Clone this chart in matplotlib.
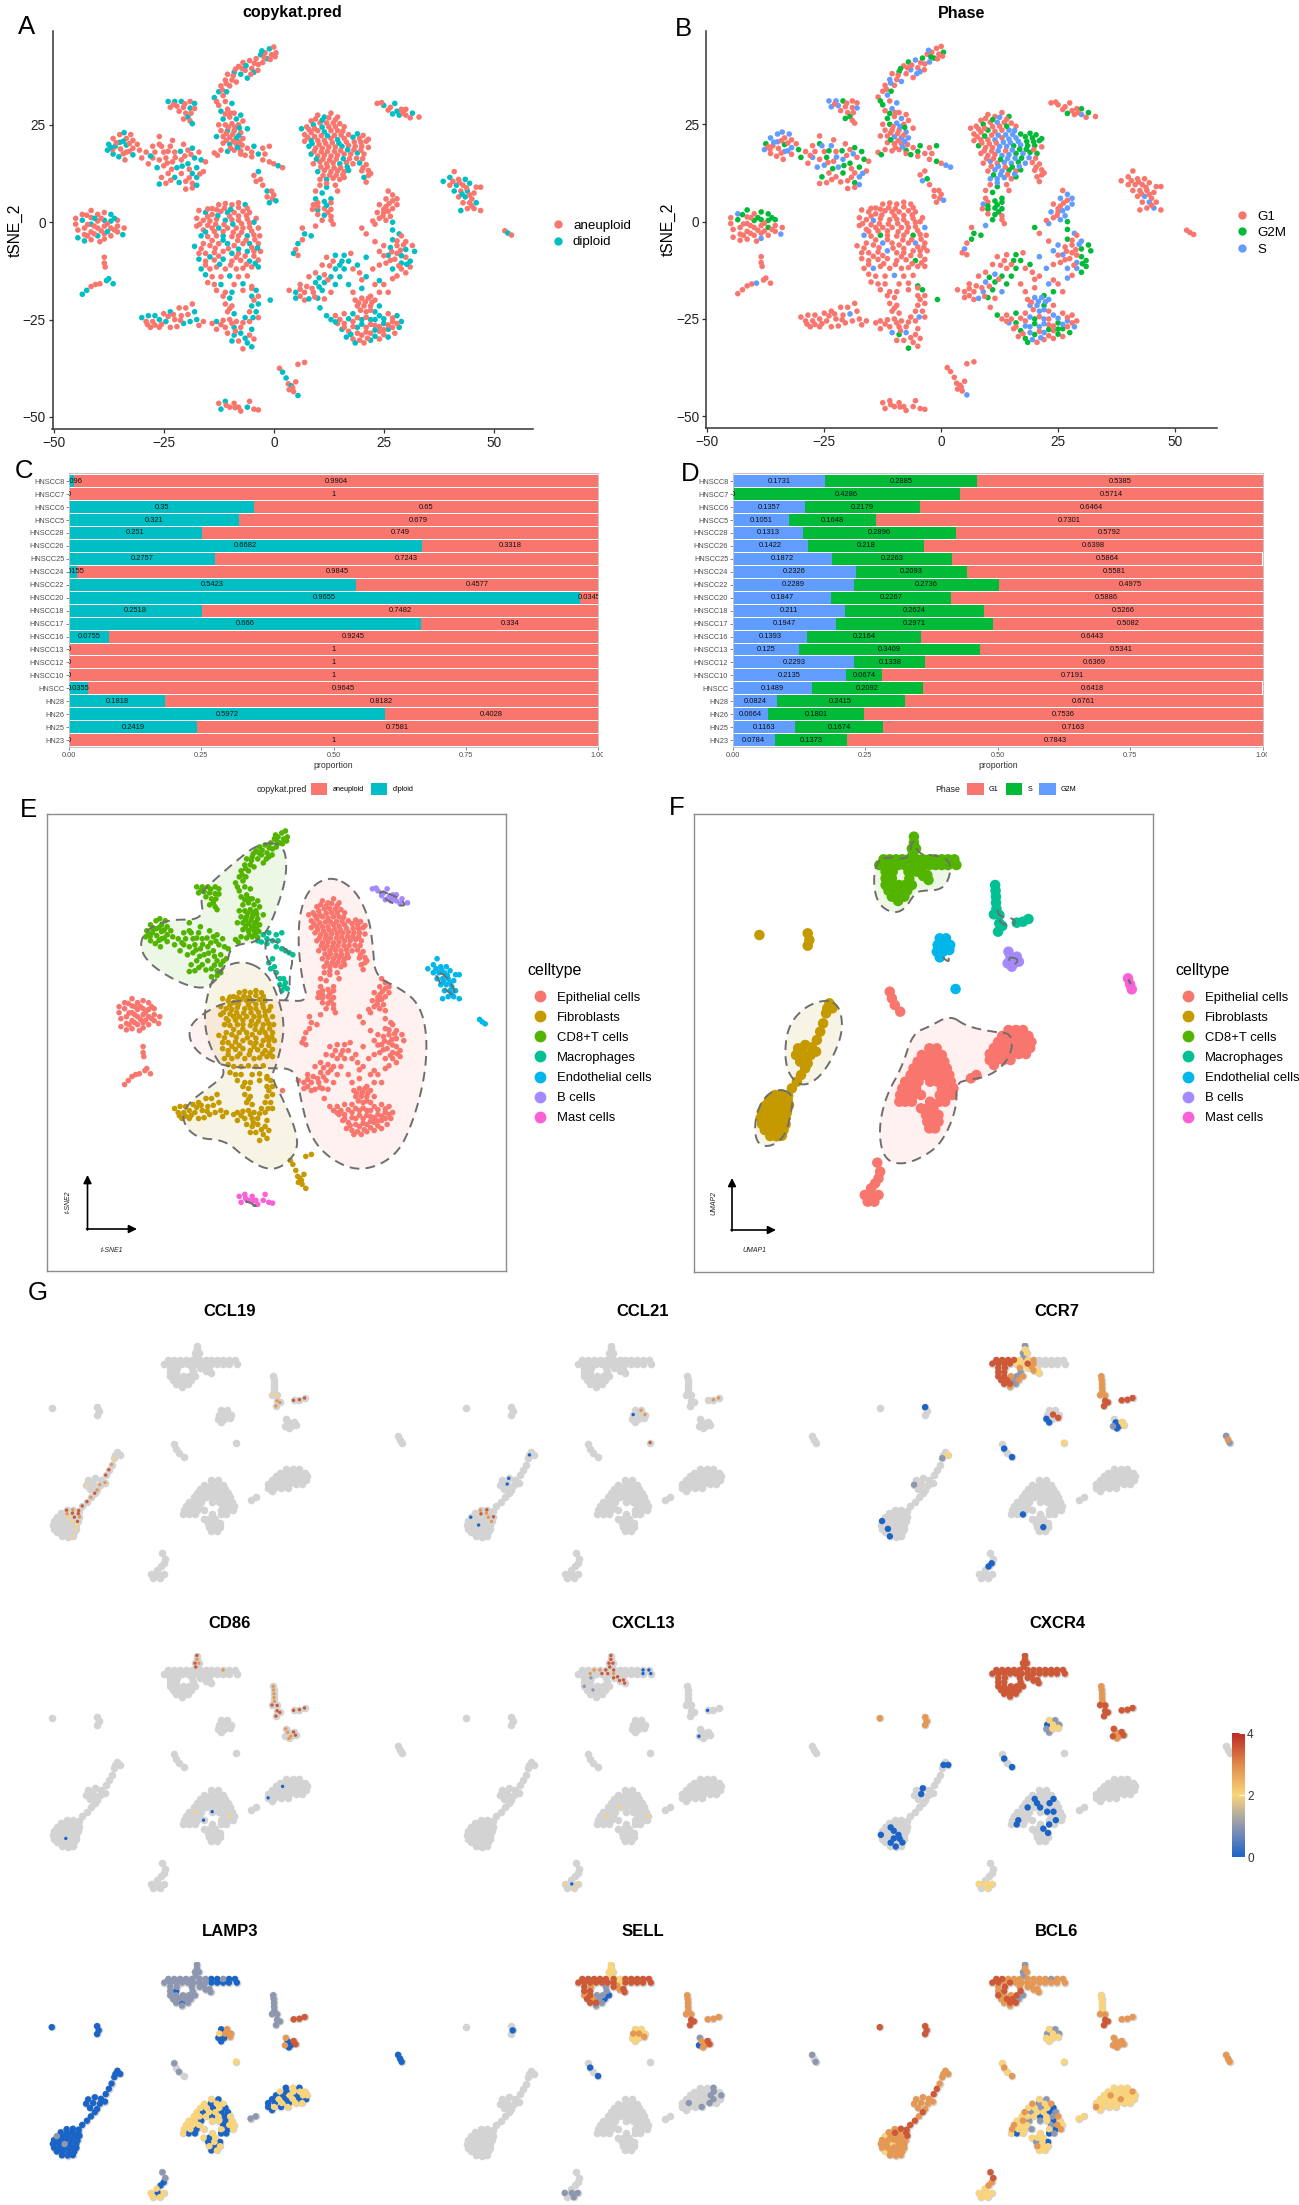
import numpy as np
import matplotlib
matplotlib.use('Agg')
import matplotlib.pyplot as plt
from matplotlib.lines import Line2D
from matplotlib.patches import Patch, Polygon
from matplotlib.colors import LinearSegmentedColormap, Normalize
from matplotlib.cm import ScalarMappable
from matplotlib.transforms import Bbox

plt.rcParams['font.family'] = ['Liberation Sans', 'DejaVu Sans']
W, H = 1299, 2205

# ---------- bar data ----------
SAMPLES = ['HNSCC8','HNSCC7','HNSCC6','HNSCC5','HNSCC28','HNSCC26','HNSCC25','HNSCC24','HNSCC22','HNSCC20','HNSCC18',
           'HNSCC17','HNSCC16','HNSCC13','HNSCC12','HNSCC10','HNSCC','HN28','HN26','HN25','HN23']
DIPLOID = [0.0096,0,0.35,0.321,0.251,0.6682,0.2757,0.0155,0.5423,0.9655,0.2518,0.666,0.0755,0,0,0,0.0355,0.1818,0.5972,0.2419,0]
ANEUPLOID = [0.9904,1,0.65,0.679,0.749,0.3318,0.7243,0.9845,0.4577,0.0345,0.7482,0.334,0.9245,1,1,1,0.9645,0.8182,0.4028,0.7581,1]
PH_G2M = [0.1731,0,0.1357,0.1051,0.1313,0.1422,0.1872,0.2326,0.2289,0.1847,0.211,0.1947,0.1393,0.125,0.2293,0.2135,0.1489,0.0824,0.0664,0.1163,0.0784]
PH_S = [0.2885,0.4286,0.2179,0.1648,0.2896,0.218,0.2263,0.2093,0.2736,0.2267,0.2624,0.2971,0.2164,0.3409,0.1338,0.0674,0.2092,0.2415,0.1801,0.1674,0.1373]
PH_G1 = [0.5385,0.5714,0.6464,0.7301,0.5792,0.6398,0.5864,0.5581,0.4975,0.5886,0.5266,0.5082,0.6443,0.5341,0.6369,0.7191,0.6418,0.6761,0.7536,0.7163,0.7843]

# ---------- tSNE embedding, (x, y, copykat+phase) ----------
T_STRAND = [(-13.5,32,'dg'),(-12.5,33.5,'dg'),(-13,31,'am'),(-11.5,32.5,'as'),(-12,35,'ag'),(-11,36.5,'as'),(-10,35,'ag'),(-10.5,38,'ag'),(-9,38.5,'dm'),(-9.5,36.5,'ag'),(-8.5,36,'as'),(-8,40,'ag'),(-7.5,38,'dg'),(-7,41,'am'),(-6.5,39,'as'),(-6,37,'dg'),(-5.5,41.5,'as'),(-5,39.5,'ag'),(-4.5,38.5,'ds'),(-4,42,'am'),(-3.5,40.5,'ag'),(-3,43,'dg'),(-2.5,41,'as'),(-2,43.5,'ag'),(-1.5,42,'dm'),(-1,44.5,'dg'),(-0.5,43,'ag'),(0,45,'ag'),(0.5,43.5,'am'),(0.3,42.5,'ag'),(-2.7,44,'ds'),
(-11.7,34,'ag'),(-10.7,33.5,'dm'),(-10.8,35.6,'as'),(-9.2,37.6,'ag'),(-8.7,39.3,'am'),(-7.2,39.5,'ag'),(-6.3,40.2,'dg'),(-5.2,38,'as'),(-4.4,40.8,'ag'),(-3.6,39,'ag'),(-2.2,42.3,'am'),(-0.8,41.8,'ag')]
T_COLUMN = [(-12.5,30,'am'),(-11,31,'ag'),(-9.5,30.5,'ds'),(-12,28.5,'dg'),(-10.5,29,'as'),(-9,28,'ag'),(-11.5,26.5,'dm'),(-10,27,'ag'),(-8.5,26.5,'ds'),(-7.5,27.5,'dg'),(-12.5,25,'ag'),(-11,25,'am'),(-9.5,25.3,'as'),(-8,25,'ag'),(-7,26,'ag'),(-12,23.5,'ag'),(-10.5,23.5,'dg'),(-9,23.5,'ag'),(-7.5,23,'as'),(-6,24,'dg'),(-13,22,'dg'),(-11.5,22,'ag'),(-10,21.8,'as'),(-8.5,21.5,'ds'),(-7,21.5,'as'),(-11.5,20.3,'ag'),(-10,20,'dg'),(-8.5,20,'ag'),(-7.2,19.8,'ag'),(-12,18.5,'ag'),(-10.5,18.2,'dg'),(-9,18.5,'ag'),(-7.5,18.3,'am'),(-13.5,17.8,'ag'),(-12.8,17.2,'am'),
(-10.3,24.4,'ag'),(-8.8,24.4,'as'),(-7.8,24.2,'dm'),(-10.8,22.8,'ag'),(-9.3,22.6,'ag'),(-8,22.2,'dg'),(-10.8,21,'am'),(-9.2,20.8,'ag'),(-7.8,20.6,'as'),(-9.8,19,'ag'),(-8.2,19.2,'ds'),(-9.8,28,'ag'),(-11,27.8,'am')]
T_SMALL = [(-24,31,'ds'),(-22.5,31,'ds'),(-21,31,'dm'),(-19,31,'ag'),(-18,30.5,'dg'),(-23.5,29.5,'as'),(-22,29.8,'as'),(-20.5,29.5,'ag'),(-19,29.3,'dg'),(-18,29.2,'as'),(-21.5,28.5,'ag'),(-20,28,'ag'),(-19.5,27,'dm'),(-19,26,'ag'),(-20.5,26.5,'am'),(-18.5,25.3,'dg'),(-22.8,30.2,'ag'),(-20.2,30.4,'ag'),(-18.8,28,'ag')]
T_LEFT = [(-37.5,20,'dm'),(-37.8,18.5,'ds'),(-36.5,21.5,'as'),(-36,19.5,'dg'),(-36.5,17.5,'dg'),(-35,22.5,'as'),(-35,20.5,'ds'),(-34.8,18.8,'ag'),(-35.2,16.8,'dg'),(-33.5,21.5,'ag'),(-33.5,19.8,'dm'),(-33.5,18,'as'),(-33.8,16,'ag'),(-32,21,'ag'),(-32,19,'as'),(-32,17.3,'dg'),(-31,20,'ag'),(-30.5,18.5,'am'),(-34,23,'ds'),(-32.5,22.5,'as'),(-36.6,18.6,'ag'),(-35.8,20.4,'as'),(-34.2,20.8,'dg'),(-34.2,17.6,'ag'),(-32.8,20.2,'ag'),(-32.8,18.2,'as'),(-37,19.2,'dg')]
T_MID = [(-30,16.5,'am'),(-29,18,'ag'),(-27.5,19.5,'ag'),(-26,22,'ag'),(-26,20,'am'),(-25,18,'ag'),(-27.5,16.5,'as'),(-28.5,15,'ag'),(-26,16,'ag'),(-24.5,16.5,'am'),(-26.5,14,'ds'),(-25,14.5,'as'),(-23.5,19.5,'as'),(-22.5,18,'ag'),(-23,15.5,'ag'),(-22,14,'ds'),(-24,12.5,'ag'),(-25.5,11.5,'am'),(-24.5,10,'ag'),(-26,9.8,'dg'),(-22.5,11.5,'dg'),(-21,12.5,'am'),(-21,16,'as'),(-20.5,20,'ag'),(-19.5,18.5,'ag'),(-19.5,15,'dm'),(-20,10.5,'ag'),(-18.5,12.5,'dg'),(-18.5,10,'am'),(-18,16.5,'dg'),(-17.5,14,'dm'),(-17.5,11.5,'ds'),(-18.5,8.8,'ag'),(-20,8.5,'ag'),(-16.5,16,'dm'),(-15.5,15.5,'ag'),(-17,18,'am'),(-16,13,'ag'),(-17.5,9.5,'ds'),(-23,21,'ag'),(-18.5,19,'dm'),
(-27,18,'ag'),(-25.5,19.5,'as'),(-28,17,'dg'),(-24.2,15.2,'ag'),(-24,18.2,'am'),(-22.4,16.6,'as'),(-21.2,18.2,'dm'),(-20.2,17,'ag'),(-23.2,13.6,'am'),(-20.8,14.4,'dm'),(-19.2,13.6,'ag'),(-19.2,11.4,'ag'),(-23.4,10.8,'ag'),(-21.5,10.2,'dg'),(-16.8,12.4,'as'),(-18.8,17.4,'as')]
T_MACRO = [(-6,19,'ag'),(-5,18,'am'),(-4.5,19.5,'dm'),(-3.5,17.5,'dg'),(-2.5,19,'ag'),(-2,17.5,'ag'),(-1,19.5,'am'),(-7.5,17.5,'ag'),(-6.5,17.2,'am'),(-5,16.8,'ag'),(-2.5,16,'ag'),(-1,15.5,'am'),(0,15,'ag'),(1,14.5,'ds'),(2,14,'as'),(-4.5,12,'ag'),(-3.5,13,'dg'),(-3,11,'am'),(-4,10.5,'as'),(-2.5,9.5,'ag'),(-1.5,8,'dg'),(-0.5,8,'ag'),(-1.5,6.5,'ag'),(-0.3,6,'ag'),(0.5,5.5,'ds'),(-1,5,'dg'),(0,7,'ag')]
T_UPPER = [(8.5,26,'ag'),(10,27.5,'ag'),(11.5,27,'dg'),(13,28,'ag'),(14.5,27,'am'),(7.5,24.5,'ag'),(9,25,'dm'),(10.5,25.5,'ag'),(12,25.5,'as'),(13.5,25.5,'ag'),(15,25.3,'ag'),(16,24.5,'ag'),(6.3,24,'dg'),(7,22.5,'ag'),(8.5,23,'ag'),(10,23.5,'am'),(11.5,23.2,'dg'),(13,23.5,'ag'),(14.5,23.5,'as'),
(7,20.8,'ag'),(8.5,21,'dg'),(10,21,'ag'),(11.5,21,'as'),(13,21.5,'ag'),(14.5,21.2,'ds'),(16,21.5,'as'),(18,21.8,'dm'),(19.5,21.5,'am'),(21,20.8,'am'),(8,19.5,'dm'),(9.5,19,'ag'),(11,19,'ag'),(12.5,19.3,'as'),(14,19.3,'as'),(15.5,19.5,'dm'),(17,19.7,'as'),(18.5,19.5,'am'),(20,19.5,'am'),(21.5,19.2,'ag'),
(8.5,17.5,'dg'),(10,17,'ag'),(11.5,17.2,'ag'),(13,17,'as'),(14.5,17.2,'as'),(16,17.5,'am'),(17.5,17.5,'as'),(19,17.8,'dm'),(20.5,17.5,'am'),(9,15,'ag'),(10.5,15.5,'as'),(12,15,'ag'),(13.5,15.2,'as'),(15,15,'ds'),(16.5,15.3,'am'),(18,15,'as'),(19.5,15.2,'dg'),(21,14.8,'ag'),
(10,13,'dg'),(11.5,13.3,'as'),(13,13,'as'),(14.5,13.2,'am'),(16,13,'ag'),(17,13.3,'dm'),(20,13.2,'ag'),(21.5,13.3,'ag'),(22,12.5,'ag'),(10.5,11,'as'),(12,11,'ds'),(13.5,11.3,'as'),(15,11,'ag'),(16,11.5,'am'),(20.5,11.5,'dg'),(21,10.3,'ag'),
(10.5,9.5,'ag'),(12,9,'dm'),(14,9.5,'ag'),(9.5,8,'ag'),(11,7.5,'dm'),(14.5,8,'ag'),(9.5,6,'dg'),(13,6,'dm'),(9,4.5,'as'),(10,5,'ag'),(11.5,5.3,'dm'),(13,5,'am'),(8.8,3.3,'ag'),(10,3.2,'dm'),(11.5,3.5,'am'),(13,3.3,'am'),(10,2,'ag'),(11.5,1.8,'dm'),(13,1.5,'ag'),(11,0.5,'am'),(13,0.5,'ag'),(13.5,-0.5,'ag'),
(9.5,26.5,'ag'),(11,26.2,'dm'),(12.5,26.8,'as'),(14,26.3,'ag'),(8,23.8,'ag'),(9.3,24,'ag'),(11,24.4,'dg'),(12.5,24.5,'ag'),(14,24.5,'am'),(15.7,23.4,'as'),(7.7,21.8,'ag'),(9.3,22,'am'),(10.8,22.2,'ag'),(12.2,22.2,'ds'),(13.8,22.3,'as'),(15.3,22.4,'as'),(17,22.5,'am'),(19,22.7,'dm'),(20.3,22.3,'am'),(8.7,20.2,'dg'),(10.3,20,'ag'),(11.8,20.2,'ag'),(13.3,20.4,'as'),(14.8,20.3,'ds'),(16.5,20.6,'as'),(18.3,20.6,'am'),(19.8,20.5,'am'),(21.5,21.3,'am'),
(9.2,18.2,'ag'),(10.8,18.1,'ag'),(12.2,18.2,'as'),(13.8,18.2,'ag'),(15.2,18.4,'as'),(16.8,18.6,'dm'),(18.2,18.6,'am'),(19.8,18.5,'ag'),(9.7,16.2,'dg'),(11.2,16.2,'ag'),(12.7,16,'am'),(14.2,16.2,'as'),(15.8,16.3,'ds'),(17.2,16.3,'am'),(18.8,16.4,'as'),(20.2,16.3,'ag'),(10.7,14.2,'ag'),(12.2,14.2,'as'),(13.7,14,'ag'),(15.2,14,'am'),(16.7,14.2,'ds'),(20.3,14,'ag'),(21.5,12,'ag'),(11.2,12,'am'),(12.7,12.1,'as'),(14.2,12.1,'ag'),(15.7,12.2,'as'),(12,10,'as'),(10,4,'am'),(12,4.3,'dm'),(12.3,2.5,'am')]
T_TOPRIGHT = [(23.5,30.5,'ag'),(25,30,'dg'),(26.5,29.5,'ag'),(27.5,30.5,'dg'),(28,28.5,'dg'),(29,29,'ag'),(30,29,'am'),(27,27.8,'dm'),(28.5,27.5,'dg'),(30,27.5,'as'),(31.5,28,'dm'),(33,27,'ag'),(31,26.8,'ag'),(26,28.8,'ag'),(24.5,30.7,'ag'),(29.3,28,'ag')]
T_RIGHT = [(38.5,10.5,'dg'),(40,11.5,'dg'),(41,13,'ag'),(42,11,'ag'),(43.5,11,'dg'),(40,9.5,'ag'),(41.5,9.5,'dg'),(43,9.5,'ag'),(44.5,10,'dg'),(46,9,'ag'),(47,9,'ag'),(41,8,'dg'),(42.5,8,'ag'),(44,8,'dg'),(45.5,7.5,'ag'),(42,6.5,'ag'),(43.5,6.5,'ds'),(45,6,'ag'),(43,5,'ag'),(44.5,5,'as'),(46,5,'dg'),(44,3.5,'ag'),(45.5,3.5,'as'),(47,3,'ag'),(42.5,3,'dg'),(40.7,10.5,'ag'),(42.2,10.2,'ag'),(43.8,8.8,'ag'),(42.8,7.2,'dg'),(44.5,7,'ag'),(45,4.2,'ag')]
T_FARRIGHT = [(52.5,-2.2,'ag'),(53.2,-2.8,'dg'),(54,-3.3,'ag')]
T_WEST = [(-45,1,'ag'),(-45,-0.5,'ag'),(-44.5,-2,'ag'),(-44.5,-4,'dg'),(-43.5,2,'as'),(-43.5,0.5,'dm'),(-43,-1.5,'ag'),(-43,-3.2,'ag'),(-43,-4.8,'dg'),(-41.5,3,'am'),(-41.5,1.2,'ag'),(-41.5,-0.5,'dg'),(-41.5,-2.5,'ag'),(-41.5,-4.5,'ag'),(-40,2,'ag'),(-40,0.3,'am'),(-40,-1.5,'ag'),(-40,-3.5,'dg'),(-39.5,-5,'ag'),(-38.5,2.5,'am'),(-38.5,0.5,'dm'),(-38.5,-1,'ag'),(-38.5,-3,'ag'),(-38.5,-4.3,'as'),(-37,2,'dm'),(-37,0.3,'dm'),(-37,-1.5,'am'),(-37,-3.5,'ag'),(-35.5,0.5,'am'),(-35.5,-1,'ag'),(-35.5,-2.5,'ag'),(-34,-1.5,'ag'),(-34.3,-3.2,'ds'),
(-42.3,-0.6,'ag'),(-42.3,-3.5,'ag'),(-42.5,1.8,'am'),(-40.8,-1,'ag'),(-40.8,-3,'ag'),(-40.7,1,'dg'),(-39.2,1,'am'),(-39.2,-2.2,'ag'),(-37.8,-0.4,'ag'),(-37.8,-2.4,'dg'),(-36.2,1,'dm'),(-36.2,-2,'ag')]
T_WTAIL = [(-38.5,-9,'ag'),(-38.5,-10.5,'ag'),(-38.3,-11.5,'ag'),(-43.5,-18.5,'dg'),(-42.5,-17.5,'dg'),(-41.5,-16.5,'ag'),(-40.5,-16,'ag'),(-39.5,-15.8,'as'),(-38,-15,'dg'),(-37.5,-14.5,'dg'),(-36.5,-15.8,'dg')]
T_FIBRO = [(-14,3.5,'ag'),(-12.5,4.5,'ag'),(-11,4.8,'ag'),(-9.5,4.5,'ag'),(-8,5,'ag'),(-6.5,4.5,'dg'),(-17,3,'ag'),(-15.5,2.5,'dg'),(-14,2,'ag'),(-12,2.8,'ag'),(-10.5,2.5,'dg'),(-9,2.5,'ag'),(-7,2.8,'ag'),(-5.5,2.5,'ag'),(-4,1,'ag'),(-17.5,1,'ag'),(-16,0.5,'ag'),(-14.5,0.3,'as'),(-13,0.8,'ag'),(-11,0.5,'dg'),(-9.5,0.6,'ag'),(-8,0.5,'ag'),(-6,0.8,'ag'),(-4.5,0,'dg'),(-3.5,-1.5,'as'),
(-17.5,-1,'ag'),(-16,-2,'ag'),(-14,-1.5,'ag'),(-12.5,-1.5,'dg'),(-10.5,-1.5,'ag'),(-8.5,-1.5,'ag'),(-7,-1.5,'ag'),(-5.5,-1.3,'ag'),(-16.5,-3.5,'ds'),(-15,-3.7,'ag'),(-13,-3.5,'am'),(-11.5,-3.5,'dg'),(-9.5,-3.7,'ag'),(-8,-3.5,'ag'),(-6,-3.5,'dm'),(-4.5,-3.3,'ag'),(-3.2,-3.5,'ag'),(-16,-5.5,'ag'),(-14.5,-6,'ag'),(-12.5,-5.5,'as'),(-10.5,-5.5,'dg'),(-9,-6,'ag'),(-7,-5.5,'ag'),(-5.5,-5.5,'ds'),(-3.5,-5.5,'ag'),
(-18,-6.2,'dg'),(-17,-8,'ag'),(-15.5,-8,'ag'),(-13.5,-7.8,'ag'),(-11.5,-7.5,'as'),(-9.5,-8,'dg'),(-8,-8,'ag'),(-6,-7.5,'dg'),(-4.5,-7.5,'ag'),(-3,-7.5,'ag'),(-17,-9.5,'dg'),(-15.5,-10,'ag'),(-13.5,-9.7,'ag'),(-11.5,-9.5,'dg'),(-9.5,-10,'ag'),(-7.5,-9.8,'ag'),(-5.5,-10,'dm'),(-3.5,-9.7,'ag'),(-16.5,-12,'dg'),(-14.5,-12,'as'),(-13,-11.5,'ag'),(-11,-12,'ag'),(-8.5,-12,'ag'),(-7,-11.8,'ag'),(-5,-11.5,'ag'),(-3.5,-11.5,'dg'),
(-15.5,-13.5,'dg'),(-14,-14,'ag'),(-12,-14,'ag'),(-10,-13.8,'ds'),(-8,-14,'ag'),(-6,-13.8,'ag'),(-15,-15.5,'ag'),(-13.5,-16,'ag'),(-12,-16,'dg'),(-9,-16,'ag'),(-7,-15.8,'dg'),(-5,-16.5,'am'),(-13,-17.5,'ag'),(-11,-18,'ag'),(-9.5,-18,'dg'),(-7,-17.5,'ag'),(-5,-17,'ag'),(-4,-17.5,'dm'),
(-15,3.4,'ag'),(-13,3.2,'ag'),(-11.2,3.6,'ag'),(-9.8,3.3,'dg'),(-8,3.8,'ag'),(-6,3.6,'ag'),(-15,1.4,'ag'),(-12.7,1.7,'dg'),(-10,1.5,'ag'),(-8,1.6,'ag'),(-6.2,1.7,'ag'),(-16.8,-0.5,'ag'),(-15,-0.8,'ag'),(-13.2,-0.5,'ag'),(-11.3,-0.6,'ag'),(-9.3,-0.5,'dg'),(-7.3,-0.4,'ag'),(-5.5,-0.2,'ag'),(-15.5,-2.5,'dg'),(-13.5,-2.4,'ag'),(-11.5,-2.4,'ag'),(-9.2,-2.6,'ag'),(-7.3,-2.6,'ag'),(-5,-2.3,'ag'),(-14,-4.7,'ag'),(-11.5,-4.6,'dg'),(-8.2,-4.7,'ag'),(-6.3,-4.6,'ag'),(-4.3,-4.5,'ag'),(-16.5,-6.8,'ag'),(-13.3,-6.7,'ag'),(-10.3,-6.8,'ag'),(-8,-6.9,'dg'),(-5,-6.5,'ag'),(-3.7,-6.6,'dg'),(-14.5,-8.9,'dg'),(-12.5,-8.7,'ag'),(-8.5,-9,'ag'),(-6.5,-8.7,'ag'),(-4.5,-8.7,'ag'),(-15.5,-11,'ag'),(-12.3,-10.8,'dg'),(-9.8,-11,'ag'),(-6.2,-10.8,'ag'),(-4.2,-10.6,'dg')]
T_RING = [(-11.5,-19,'ag'),(-10,-19.5,'dg'),(-11,-21,'ag'),(-9.5,-21.5,'ag'),(-5,-19,'dg'),(-3.5,-19,'ag'),(-3.5,-21,'dg'),(-5,-21.5,'dg'),(-4,-23,'dg'),(-5.5,-23,'ag'),(-6.5,-24.5,'dg'),(-3.5,-24.5,'ag'),(-5.5,-25.5,'ag'),(-10.5,-23,'ag'),(-9,-23.5,'dg'),(-10,-25,'ag'),(-8.5,-25.5,'ag'),(-11.5,-25.2,'ag'),(-13,-25.5,'dg'),(-14,-26,'ag'),(-13,-27.5,'ag'),(-11,-27,'ag'),(-9,-27,'dg'),(-7.5,-27,'ag'),(-5,-27.5,'dg'),(-10.5,-28.5,'as'),(-9,-29,'dm'),(-7.5,-28.5,'ds'),(-5.5,-29,'ag'),(-9.5,-30.5,'dg'),(-8,-30.5,'ag'),(-6,-31,'dg'),(-5,-32,'dg'),(-7,-32.5,'am'),(-4.5,-30,'ag'),(-4.5,-20,'ag'),(-4.7,-24.5,'ds'),(-10,-22.2,'ag'),(-9.5,-26,'ag'),(-12,-26.3,'ag'),(-7,-25.8,'ag'),(-8.7,-28,'ag'),(-6.5,-29.8,'dg')]
T_LOWLEFT = [(-30,-24.5,'dg'),(-29,-25.5,'ag'),(-28.5,-24,'dg'),(-28,-27,'ag'),(-27.5,-25.5,'ag'),(-27,-24,'dg'),(-26,-25,'dg'),(-26,-27,'ag'),(-25,-23.5,'ag'),(-24.5,-25.5,'dg'),(-23.5,-27,'ag'),(-23.5,-23,'dg'),(-22.5,-25,'ag'),(-22,-26.8,'ag'),(-21.5,-22,'ag'),(-21,-24,'ag'),(-20.5,-26,'dg'),(-20,-22,'ag'),(-19.5,-23.7,'as'),(-19,-25.5,'dg'),(-18.5,-21,'ag'),(-17.5,-25,'dg'),(-17,-26.5,'ag'),(-16,-25.5,'ag'),(-18,-23,'dg'),(-28.7,-26.3,'ag'),(-25.5,-26.2,'ag'),(-24,-24.2,'ag'),(-22.8,-23.7,'ag'),(-21.2,-25.2,'ag'),(-27,-26.4,'ag')]
T_EPI25 = [(26,8,'ag'),(27,7,'as'),(25.5,6,'as'),(27,5.5,'ag'),(28,6,'as'),(24,4.5,'ag'),(25.5,4,'ag'),(27,3.5,'as'),(28,4.5,'as'),(23.5,2.5,'as'),(25,2.5,'ag'),(26.5,1.5,'as'),(24,1,'ag'),(25.5,0.5,'as'),(27,0,'dm'),(23,-0.5,'as'),(22.5,0.3,'ag'),(27,-2,'dm'),(28.5,-3,'ds'),(26.2,4.8,'ag'),(25,3.3,'ag'),(26,2.8,'as'),(24.8,1.6,'ag')]
T_EAST = [(20,-1.5,'am'),(21,-3,'ag'),(25,-6,'as'),(23,-5,'ag'),(27,-4.5,'dm'),(29,-3.5,'ag'),(30,-5,'as'),(31.5,-6,'am'),(28,-6,'ag'),(26.5,-6.5,'dg'),(30,-7,'dm'),(32,-7.5,'dm'),(28,-8,'ag'),(26,-8.5,'ds'),(24,-7.5,'as'),(30,-9,'am'),(31,-10,'dm'),(27.5,-9.5,'ag'),(29,-10.5,'ds'),(25.5,-10.5,'ag'),(31,-11.5,'am'),(29,-12,'as'),(27,-12,'ds'),(24,-11,'ag'),(30,-13,'am'),(28,-13.8,'ag'),(22.5,-12,'as'),(21,-9,'ds'),
(28.8,-7.2,'ag'),(26.8,-7.6,'ag'),(29,-8.6,'dg'),(26.5,-9.8,'ag'),(28.4,-11.2,'ag'),(30.2,-10.8,'dm'),(25,-8.6,'ag'),(29.5,-5.8,'as'),(28,-4.8,'ag')]
T_CENTER = [(12,-9,'ag'),(14,-8.5,'dg'),(16,-8.5,'dm'),(13.5,-10,'ag'),(15.5,-10,'dm'),(17,-10,'dm'),(11,-11,'ag'),(14,-12,'dg'),(16,-12,'dm'),(18,-12,'ag'),(17.5,-8,'ag'),(19.5,-13,'ag'),(21,-14,'dg'),(19,-11,'dm'),(9.5,-13,'ag'),(11.5,-13.5,'as'),(13,-14,'dm'),(15,-14,'dm'),(8,-14,'ag'),(6,-16,'ag'),(7.5,-16.5,'ag'),(9.5,-15.5,'ds'),(11.5,-15.5,'dm'),(14,-16,'dm'),(17,-16,'dg'),(5,-18,'dg'),(7,-18,'ag'),(9,-18,'as'),(11,-17.5,'dm'),(13,-18,'as'),(3.5,-17.5,'ag'),(5,-19.5,'dg'),(7,-20,'ag'),(8,-19.7,'ds'),(10,-19.5,'dm'),(11.5,-19.7,'ag'),(23,-16,'as'),(25,-16,'ag'),(27,-14.5,'as'),(24,-18,'am'),(26,-18,'ag'),(22,-19,'am'),(18,-18,'ag'),(20,-17,'dg'),
(18.5,-20,'ag'),(20,-19.5,'as'),(21.5,-19.5,'as'),(23,-20,'as'),(19,-21.5,'as'),(20.5,-21.5,'as'),(22,-21.5,'am'),(24,-21.5,'dg'),(21,-23,'as'),(23,-23,'dg'),
(12.7,-11.2,'ag'),(15,-11,'dg'),(10.3,-14.3,'dm'),(12.3,-14.8,'ag'),(8.7,-17,'ag'),(10.3,-16.6,'dg'),(6,-17.2,'ag'),(6,-19,'ag'),(9.3,-19.2,'ag'),(19.3,-20.7,'ag'),(20.8,-20.5,'as'),(22.3,-20.6,'as'),(19.7,-22.6,'ag'),(22,-22.6,'as'),(20,-14.8,'ag'),(24,-15,'dg')]
T_BOTTOM = [(10.5,-22,'dg'),(12,-24,'dm'),(13,-25,'dg'),(14,-24,'ag'),(16,-23.5,'am'),(18,-23.5,'dg'),(14.5,-26,'as'),(16,-26,'am'),(18,-25.5,'ag'),(20,-25,'dm'),(22,-25,'ds'),(24,-24,'ds'),(26,-23.5,'ag'),(28,-24,'dg'),(15.5,-27.5,'dg'),(17,-28,'am'),(19,-27,'ds'),(21,-27,'as'),(23,-26.5,'ag'),(25,-26,'dm'),(27,-25.5,'as'),(29,-25.5,'dg'),(28.5,-27,'ds'),(16.5,-29.5,'dg'),(18,-30,'am'),(20,-29,'am'),(22,-28.5,'as'),(24,-28,'ag'),(26,-27.5,'dm'),(18.5,-31,'dm'),(20.5,-31,'ag'),(22,-30.3,'dg'),(24,-30,'ag'),(26,-29.5,'dg'),(27.5,-28.5,'am'),
(15,-25,'ag'),(17,-24.8,'dg'),(19,-24.5,'as'),(21,-24.4,'ag'),(23,-25,'dg'),(25,-24.8,'ds'),(27,-24.6,'ag'),(16,-27,'ag'),(18,-26.8,'as'),(20,-26.2,'dm'),(22,-26.2,'as'),(24,-26.8,'ag'),(26,-26.4,'as'),(28,-26,'ag'),(17.5,-28.8,'dg'),(19,-28.5,'as'),(21,-28.2,'ag'),(23,-27.7,'dm'),(25,-27.6,'am'),(27,-27,'ag'),(19.5,-30.3,'as'),(21.3,-29.8,'as'),(23,-29.3,'dg'),(25,-28.9,'am'),(14,-25.6,'dg')]
T_CHAIN = [(6.5,-1.5,'ag'),(7,-3,'dm'),(6.5,-4.5,'am'),(5.5,-5.5,'dg'),(5,-7,'as'),(4.5,-8,'dg'),(5.5,-8.5,'ag'),(8.5,-3.5,'dm'),(9.5,-1,'as')]
T_SINGLE = [(-0.8,-20,'dm')]
T_SOUTH = [(1.3,-37.5,'ag'),(2,-38.5,'dg'),(2.8,-40,'dg'),(3.3,-41.5,'ag'),(4,-42,'dg'),(5,-41,'ag'),(3.5,-43,'ag'),(4.5,-43.5,'ag'),(5.5,-44.5,'ds'),(5.5,-36.5,'ag'),(7,-36,'ag'),(4.3,-42.5,'ag')]
T_MAST = [(-12.5,-46.5,'ag'),(-11,-46,'dg'),(-12,-48,'dg'),(-10,-47.5,'ag'),(-9,-46.5,'ag'),(-8,-47.5,'ag'),(-7.5,-48.5,'ag'),(-6,-47.5,'dg'),(-5.5,-46,'ag'),(-4.5,-48,'ag'),(-3.5,-48.2,'ag'),(-10.8,-47,'ag'),(-8.8,-47.6,'ag')]

CELLTYPES = ['Epithelial cells','Fibroblasts','CD8+T cells','Macrophages','Endothelial cells','B cells','Mast cells']
CT_COL = ['#F8766D','#C49A00','#53B400','#00C094','#00B6EB','#A58AFF','#FB61D7']
TSNE_GROUPS = [(T_STRAND,2),(T_COLUMN,2),(T_SMALL,2),(T_LEFT,2),(T_MID,2),(T_MACRO,3),(T_UPPER,0),(T_TOPRIGHT,5),(T_RIGHT,4),(T_FARRIGHT,4),(T_WEST,0),(T_WTAIL,0),(T_FIBRO,1),(T_RING,1),(T_LOWLEFT,1),(T_EPI25,0),(T_EAST,0),(T_CENTER,0),(T_BOTTOM,0),(T_CHAIN,0),(T_SINGLE,0),(T_SOUTH,1),(T_MAST,6)]
tsne = [(p[0], p[1], p[2][0], p[2][1], ct) for grp, ct in TSNE_GROUPS for p in grp]
tx = np.array([p[0] for p in tsne]); ty = np.array([p[1] for p in tsne])
t_cp = [p[2] for p in tsne]; t_ph = [p[3] for p in tsne]; t_ct = [p[4] for p in tsne]

E_EPI = [(795,228),(850,265),(885,350),(895,440),(900,530),(960,565),(1005,610),(1025,700),(1020,830),(990,970),(950,1070),(870,1115),(800,1085),(745,1015),(720,890),(710,805),(640,805),(530,800),(465,750),(450,690),(480,645),(550,600),(680,600),(740,605),(725,540),(715,430),(720,330),(745,260)]
E_FIB = [(580,480),(635,510),(665,580),(685,680),(665,790),(650,830),(680,900),(710,990),(715,1050),(680,1100),(640,1110),(590,1075),(540,1020),(470,1015),(435,960),(450,910),(510,855),(545,820),(510,760),(490,680),(495,590),(520,510)]
E_CD8 = [(620,130),(680,130),(690,210),(670,310),(630,425),(555,435),(545,490),(505,565),(450,560),(370,505),(335,450),(345,395),(400,358),(490,360),(480,280),(510,245),(560,190)]
E_MINI = [[(635,420),(660,420),(705,470),(695,520),(695,580),(680,610),(660,510),(640,480)],[(910,270),(960,295),(975,318),(950,315),(915,290)],[(1040,510),(1075,530),(1100,600),(1060,560)],[(585,1200),(620,1220),(600,1215)]]

# ---------- UMAP embedding (arbitrary units), profile per point ----------
GENES = ['CCL19','CCL21','CCR7','CD86','CXCL13','CXCR4','LAMP3','SELL','BCL6']
LEVELS = {'0': 0.0, '1': 1.0, '2': 2.0, '3': 2.8, '4': 3.5}
EXPR = dict(
 f0='......0.3',f1='......0.2',f2='.....00.3',f3='..0...0.3',f4='43....0.3',f5='34....0.4',f6='2.....0.3',f7='.0....1.2',f8='...0.00.3',f9='4.....0.4',
 s0='3.....0.3',s1='4.....0.4',s2='.0...00.3',s3='2.1...0.3',s4='......0.3',s5='..2..00.3',
 b0='..4..4144',b1='..4.34143',b2='..2.44143',b3='.....4043',b4='..3..4123',b5='....04043',b6='...3.4141',
 k0='..4..4143',k1='..3..4113',k2='..4.14134',k3='..1..4114',k4='..3..4101',k5='..4..4044',
 p0='..1444121',p1='..2344123',x0='..2.44143',x1='..3.44133',
 m0='..33.3132',m1='2.34.4133',m2='3.44.4144',t0='4344.4433',t1='4.4404433',
 e0='.....2022',e1='.3...1321',e2='.0...0231',e3='..4..2332',e4='..0..1022',e5='.42...2.2',
 d0='..03.3033',d1='..1.04303',d2='..24.4443',d3='...3.4313',
 g0='..1...013',g1='..3...0.3',h0='.....30.4',h1='..0..30.4',h2='.....3004',
 j0='......2.2',j1='......0.1',j2='.....02.2',j3='.....00.0',j4='......2.3',j5='...0..2.1',j6='....2.2.2',j7='..0...0.2',j8='......0.2',j9='...2..2.3',
 r0='......0.2',r1='......2.2',r2='......012',r3='......212',r4='...0..0.3',r5='......2.3',
 q0='......1.2',q1='..0..0.03',u0='......1.2',v0='......2.2',v1='....22212',v2='....02012',v3='......1.4',v4='..0...0.3')
U_FIBRO = [(300,885,'f4'),(316,883,'f5'),(331,887,'f9'),(285,900,'f0'),(301,902,'f5'),(315,899,'f4'),(330,901,'f9'),(275,918,'f7'),(290,919,'f2'),(305,917,'f6'),(320,918,'f4'),(333,916,'f5'),(268,936,'f3'),(283,937,'f0'),(298,935,'f2'),(313,936,'f6'),(328,938,'f4'),(265,954,'f2'),(280,953,'f0'),(295,955,'f7'),(310,954,'f2'),(325,953,'f6'),(268,972,'f0'),(283,973,'f3'),(298,971,'f8'),(313,972,'f2'),(325,973,'f6'),(275,990,'f1'),(290,991,'f2'),(305,989,'f0'),(320,990,'f2'),(288,1008,'f3'),(303,1009,'f2'),(316,1007,'f6')]
U_STRIP = [(340,865,'s1'),(352,845,'s1'),(362,825,'s0'),(372,805,'s1'),(355,745,'s4'),(372,735,'s2'),(388,742,'s4'),(350,765,'s3'),(368,762,'s2'),(385,765,'s0'),(398,755,'s0'),(360,785,'s4'),(378,790,'s0'),(400,720,'s1'),(408,695,'s1'),(415,670,'s0'),(422,640,'s3'),(430,610,'s4'),(425,625,'s2'),(437,625,'s5')]
U_FMINI = [(262,405,'h0'),(378,400,'h1'),(382,420,'h2'),(378,437,'h0')]
U_CD8 = [(565,215,'k0'),(582,215,'k2'),(620,215,'k1'),(565,235,'k0'),(580,235,'k5'),(622,235,'k3'),(565,255,'k2'),(580,255,'k0'),(597,255,'k1'),(612,255,'k3'),(628,255,'k4'),(572,272,'k0'),(587,272,'k2'),(602,272,'k3'),(617,272,'k4'),(580,290,'k0'),(595,290,'k5'),(610,290,'k3'),(595,303,'k1'),
(560,178,'b0'),(575,178,'b0'),(590,178,'b1'),(605,178,'b1'),(620,178,'b2'),(640,178,'b2'),(655,178,'b4'),(670,178,'b3'),(685,178,'b3'),(700,178,'b6'),(715,178,'b5'),(730,178,'b5'),(550,195,'b0'),(565,195,'b0'),(580,195,'b1'),(595,195,'b0'),(610,195,'b2'),(625,195,'b2'),(640,195,'b1'),(655,195,'b4'),(670,195,'b3'),(685,195,'b3'),(700,195,'b3'),(715,195,'b5'),(735,195,'b5'),(640,215,'x0'),(655,228,'x1'),(668,240,'x0'),(650,210,'x1'),(665,225,'x0'),
(633,110,'p0'),(633,128,'p1'),(628,146,'p0'),(638,146,'p1'),(630,164,'p0')]
U_MACRO = [(828,255,'m0'),(829,272,'m0'),(830,290,'m0'),(830,308,'m0'),(831,326,'m0'),(825,343,'m1'),(838,345,'m1'),(838,370,'m2'),(845,378,'m2'),(835,395,'m2'),(880,368,'t1'),(895,365,'t0'),(908,357,'t0')]
U_ENDO = [(695,415,'e0'),(710,415,'e1'),(690,435,'e2'),(705,435,'e3'),(720,435,'e1'),(688,455,'e4'),(703,455,'e0'),(718,450,'e3'),(695,472,'e4'),(733,567,'e5')]
U_B = [(860,455,'d3'),(865,472,'d0'),(880,470,'d2'),(858,490,'d1'),(873,490,'d0'),(885,485,'d2'),(868,500,'d0')]
U_MAST = [(1147,535,'g0'),(1152,553,'g1'),(1156,568,'g0')]
U_ECHAIN = [(575,575,'q0'),(580,595,'q1'),(587,615,'q0'),(600,635,'q1')]
U_EPI = [(670,745,'j0'),(688,745,'j1'),(652,765,'j4'),(668,765,'j1'),(684,765,'j0'),(700,765,'j4'),(642,785,'j0'),(658,785,'j2'),(674,785,'j1'),(690,785,'j0'),(706,785,'j3'),(632,805,'j4'),(648,805,'j1'),(664,805,'j2'),(680,805,'j0'),(696,805,'j3'),(712,805,'j1'),(625,825,'j0'),(640,825,'j2'),(656,825,'j6'),(672,825,'j3'),(688,825,'j0'),(704,825,'j1'),(718,825,'j4'),
(612,845,'j0'),(628,845,'j9'),(644,845,'j1'),(672,845,'j5'),(690,845,'j2'),(706,845,'j3'),(722,845,'j0'),(605,865,'j4'),(622,865,'j6'),(638,865,'j0'),(700,865,'j1'),(716,865,'j9'),(728,865,'j6'),(600,885,'j4'),(616,885,'j2'),(632,885,'j8'),(650,885,'j5'),(695,885,'j0'),(712,885,'j3'),(725,885,'j4'),(598,905,'j0'),(612,905,'j3'),(628,905,'j7'),(672,905,'j0'),(695,905,'j3'),(708,905,'j1'),
(650,925,'j0'),(665,925,'j8'),(680,925,'j2'),(662,945,'j1'),(678,945,'j0'),(692,945,'j3'),(665,965,'j4'),(680,965,'j7'),(692,965,'j0'),(670,985,'j8'),(684,985,'j0')]
U_RIGHT = [(860,690,'r0'),(878,690,'r1'),(895,690,'r2'),(845,708,'r1'),(862,708,'r0'),(880,708,'r1'),(896,708,'r3'),(908,708,'r5'),(835,726,'r0'),(852,726,'r4'),(870,726,'r1'),(888,726,'r2'),(904,726,'r1'),(915,726,'r3'),(825,744,'r0'),(842,744,'r1'),(860,744,'r0'),(878,744,'r5'),(895,744,'r2'),(912,744,'r0'),(815,762,'r0'),(832,762,'r2'),(850,762,'r1'),(868,762,'r0'),(885,762,'r3'),(902,762,'r1'),(815,780,'r4'),(830,780,'r1'),(848,780,'r0'),(865,780,'r3'),(825,795,'r0')]
U_TINY = [(783,825,'u0'),(770,835,'u0')]
U_LOWER = [(545,1088,'v3'),(552,1115,'v3'),(548,1135,'v4'),(540,1150,'v4'),(530,1165,'v0'),(515,1185,'v1'),(533,1185,'v2'),(548,1185,'v1'),(522,1205,'v0'),(538,1205,'v1')]
UMAP_GROUPS = [(U_EPI,0),(U_RIGHT,0),(U_ECHAIN,0),(U_TINY,0),(U_LOWER,0),(U_FIBRO,1),(U_STRIP,1),(U_FMINI,1),(U_CD8,2),(U_MACRO,3),(U_ENDO,4),(U_B,5),(U_MAST,6)]
umap = [(p[0], p[1], p[2], ct) for grp, ct in UMAP_GROUPS for p in grp]
ux = np.array([p[0] for p in umap]); uy = np.array([p[1] for p in umap])
u_prof = [EXPR[p[2]] for p in umap]; u_ct = [p[3] for p in umap]

F_EPI = [(720,645),(760,680),(830,697),(865,700),(870,745),(850,795),(810,830),(760,840),(735,850),(735,930),(700,1030),(650,1075),(600,1095),(560,1075),(548,990),(565,890),(605,800),(630,700),(670,680)]
F_FIB1 = [(425,597),(455,620),(463,690),(440,770),(405,835),(365,860),(335,830),(322,770),(330,680),(370,620)]
F_FIB2 = [(300,865),(345,880),(335,960),(320,1015),(285,1042),(255,1030),(250,970),(265,905)]
F_CD8 = [(545,180),(580,170),(620,180),(630,110),(645,165),(680,165),(720,180),(720,230),(700,270),(650,272),(635,280),(610,330),(580,340),(545,310),(535,240)]
F_MINI = [[(833,320),(836,350),(875,355),(875,378),(838,372)],[(862,470),(885,478),(875,495),(862,485)],[(715,465),(718,488),(700,470)],[(1147,535),(1155,555),(1150,545)]]

# ---------- helpers ----------
fig = plt.figure(figsize=(W/100, H/100), dpi=100)
def px_ax(x0, y0, x1, y1):
    return fig.add_axes([x0/W, 1-y1/H, (x1-x0)/W, (y1-y0)/H])
def sz(d):
    return (d*0.72)**2
def smooth(pts, n=3):
    p = np.array(pts, float)
    for _ in range(n):
        q = np.roll(p, -1, axis=0)
        p = np.column_stack([0.75*p+0.25*q, 0.25*p+0.75*q]).reshape(-1, 2)
    return p
ov = fig.add_axes([0, 0, 1, 1], zorder=20); ov.set_xlim(0, W); ov.set_ylim(H, 0); ov.axis('off'); ov.patch.set_alpha(0)

def scatter_panel(ax_box, xl, yl, cats, cols, title, tx_c):
    ax = px_ax(*ax_box)
    ax.scatter(tx, ty, s=sz(5.6), c=[cols[c] for c in cats], linewidths=0)
    ax.set_xlim(*xl); ax.set_ylim(*yl)
    for s in ['top', 'right']:
        ax.spines[s].set_visible(False)
    for s in ['left', 'bottom']:
        ax.spines[s].set_linewidth(1.1); ax.spines[s].set_color('#333333')
    ax.set_xticks([-50, -25, 0, 25, 50]); ax.set_yticks([-50, -25, 0, 25])
    ax.tick_params(labelsize=9.8, length=3, width=0.9, color='#333333', labelcolor='#222222', pad=2)
    ax.set_ylabel('tSNE_2', fontsize=11.2, labelpad=0)
    ov.text(tx_c, 13, title, fontsize=11.5, fontweight='bold', ha='center', va='center')
    return ax

# A / B
CP_COL = {'a': '#F8766D', 'd': '#00BFC4'}
PH_COL = {'g': '#F8766D', 'm': '#00BA38', 's': '#619CFF'}
axA = scatter_panel((52.5, 31, 533, 429), (-50.27, 58.9), (-53.1, 49.1), t_cp, CP_COL, 'copykat.pred', 292)
axB = scatter_panel((706, 31, 1217.5, 428), (-50.3, 59.1), (-53.0, 48.96), t_ph, PH_COL, 'Phase', 962)
def dots(names, cols, ms):
    return [Line2D([], [], ls='', marker='o', ms=ms, mfc=c, mec='none', label=n) for n, c in zip(names, cols)]
axA.legend(handles=dots(['aneuploid', 'diploid'], ['#F8766D', '#00BFC4'], 6), loc='center left', bbox_to_anchor=(545, 234),
           bbox_transform=ov.transData, frameon=False, fontsize=9.6, labelspacing=0.32, handletextpad=0.1, borderpad=0, borderaxespad=0)
axB.legend(handles=dots(['G1', 'G2M', 'S'], ['#F8766D', '#00BA38', '#619CFF'], 6), loc='center left', bbox_to_anchor=(1229, 233),
           bbox_transform=ov.transData, frameon=False, fontsize=9.6, labelspacing=0.32, handletextpad=0.1, borderpad=0, borderaxespad=0)

# C / D
def bar_panel(box, series, cols, clip_right):
    ax = px_ax(*box)
    y = np.arange(len(SAMPLES))
    left = np.zeros(len(SAMPLES))
    for vals, c in zip(series, cols):
        v = np.array(vals)
        ax.barh(y, v, left=left, height=0.92, color=c, linewidth=0)
        for yi, l, vi in zip(y, left, v):
            ax.text(l+vi/2, yi, f'{vi:.4f}'.rstrip('0').rstrip('.') if vi else '0', ha='center', va='center', fontsize=5.4, color='#111111', clip_on=True)
        left = left+v
    ax.set_xlim(0, 1); ax.set_ylim(len(SAMPLES)-0.47, -0.63)
    ax.set_yticks(y); ax.set_yticklabels(SAMPLES)
    ax.set_xticks([0, .25, .5, .75, 1]); ax.set_xticklabels(['0.00', '0.25', '0.50', '0.75', '1.00'])
    ax.tick_params(labelsize=5.3, length=2, width=0.5, color='#555555', labelcolor='#4D4D4D', pad=1.5)
    for s in ax.spines.values():
        s.set_color('#C4C4C4'); s.set_linewidth(0.7)
    ax.set_xlabel('proportion', fontsize=6.3, color='#333333', labelpad=1.5)
    lab = ax.get_xticklabels()[-1]
    lab.set_clip_on(True)
    lab.set_clip_box(Bbox([[0, 0], [clip_right, H]]))
    return ax
axC = bar_panel((69, 473, 598, 747), [DIPLOID, ANEUPLOID], ['#00BFC4', '#F8766D'], 603)
axD = bar_panel((733, 473, 1262.5, 747), [PH_G2M, PH_S, PH_G1], ['#619CFF', '#00BA38', '#F8766D'], 1267)
def box_legend(ax, names, cols, cx):
    ax.legend(handles=[Patch(fc=c, ec='none', label=n) for n, c in zip(names, cols)], ncol=len(names), loc='center', bbox_to_anchor=(cx, 789),
              bbox_transform=ov.transData, frameon=False, fontsize=5.2, handlelength=2.3, handleheight=2.2, handletextpad=0.7, columnspacing=1.0, borderpad=0, borderaxespad=0)
box_legend(axC, ['aneuploid', 'diploid'], ['#F8766D', '#00BFC4'], 362)
box_legend(axD, ['G1', 'S', 'G2M'], ['#F8766D', '#00BA38', '#619CFF'], 1022)
ov.text(282, 789, 'copykat.pred', fontsize=6.3, ha='center', va='center', color='#222222')
ov.text(948, 789, 'Phase', fontsize=6.3, ha='center', va='center', color='#222222')

# E
def hull(ax, pts, col=None):
    p = smooth(pts)
    if col is not None:
        ax.add_patch(Polygon(p, closed=True, fc=col, ec='none', alpha=0.1, zorder=1))
    ax.add_patch(Polygon(p, closed=True, fc='none', ec='#6E6E6E', lw=1.4, ls=(0, (5, 3.2)), zorder=5))
def frame(ax):
    ax.set_xticks([]); ax.set_yticks([])
    for s in ax.spines.values():
        s.set_color('#8C8C8C'); s.set_linewidth(1.0)
E_X0, E_XS, E_Y0, E_YS = 685, 8.87, 632, 11.98
def e_conv(pts):
    return [((a-E_X0)/E_XS, (E_Y0-b)/E_YS) for a, b in pts]
axE = px_ax(47, 814, 506, 1271)
axE.scatter(tx, ty, s=sz(5.6), c=[CT_COL[c] for c in t_ct], linewidths=0, zorder=3)
axE.set_xlim((113-E_X0)/E_XS, (1214-E_X0)/E_XS); axE.set_ylim((E_Y0-1413)/E_YS, (E_Y0-42)/E_YS)
frame(axE)
hull(axE, e_conv(E_EPI), CT_COL[0]); hull(axE, e_conv(E_FIB), CT_COL[1]); hull(axE, e_conv(E_CD8), CT_COL[2])
for m in E_MINI:
    hull(axE, e_conv(m))

# F
axF = px_ax(694, 814, 1153, 1272)
axF.scatter(ux, uy, s=sz(10.5), c=[CT_COL[c] for c in u_ct], linewidths=0, zorder=3)
axF.set_xlim(105, 1207); axF.set_ylim(1416, 42)
frame(axF)
hull(axF, F_EPI, CT_COL[0]); hull(axF, F_FIB1, CT_COL[1]); hull(axF, F_FIB2, CT_COL[1]); hull(axF, F_CD8, CT_COL[2])
for m in F_MINI:
    hull(axF, m)
for ax, x in ((axE, 527), (axF, 1175)):
    leg = ax.legend(handles=dots(CELLTYPES, CT_COL, 8.5), title='celltype', loc='upper left', bbox_to_anchor=(x, 963), bbox_transform=ov.transData,
                    frameon=False, fontsize=9.4, title_fontsize=11.5, labelspacing=0.61, handletextpad=0.3, borderpad=0, borderaxespad=0, alignment='left')
    leg._legend_box.sep += 4

# arrows
for (ox, oy, xe, ye, lx, ly, n1, ry, rx) in ((87.5, 1229, 137, 1175, 112, 1251, 't-SNE1', 1202, 68), (732, 1230, 776, 1178, 754, 1251, 'UMAP1', 1203, 714)):
    ov.annotate('', xy=(xe, oy), xytext=(ox-1, oy), arrowprops=dict(arrowstyle='-|>', color='k', lw=1.2, mutation_scale=12, shrinkA=0, shrinkB=0))
    ov.annotate('', xy=(ox, ye), xytext=(ox, oy+1), arrowprops=dict(arrowstyle='-|>', color='k', lw=1.2, mutation_scale=12, shrinkA=0, shrinkB=0))
    ov.text(lx, ly, n1, fontsize=5, style='italic', ha='center', va='center', color='#222222')
    ov.text(rx, ry, n1[:-1]+'2', fontsize=5, style='italic', ha='center', va='center', rotation=90, color='#222222')

# G
cmap = LinearSegmentedColormap.from_list('expr', ['#1A63C7', '#8E97B0', '#F9D57A', '#E08A4A', '#BB2A25'])
norm = Normalize(0, 4)
ROW_Y = [1524, 1834, 2143]; COL_X = [47, 461, 875]; TITLE_X = [230, 643, 1057]; TITLE_Y = [1312, 1623, 1932]
SPARSE = {'CCL19', 'CCL21', 'CD86', 'CXCL13'}
for i, g in enumerate(GENES):
    r, c = i//3, i % 3
    ax = px_ax(COL_X[c], ROW_Y[r]-180.6, COL_X[c]+364, ROW_Y[r]+61.6)
    vals = [p[i] for p in u_prof]
    mask = np.array([v != '.' for v in vals])
    ax.scatter(ux, uy, s=sz(7.6), c='#D3D3D3', linewidths=0, zorder=1)
    lv = np.array([LEVELS.get(v, 0.0) for v in vals])
    order = np.argsort(lv[mask], kind='stable')
    ax.scatter(ux[mask][order], uy[mask][order], s=sz(3.4 if g in SPARSE else 6.4), c=lv[mask][order], cmap=cmap, norm=norm, linewidths=0, zorder=2)
    ax.set_xlim(250, 1180); ax.set_ylim(1240, 100); ax.axis('off')
    ov.text(TITLE_X[c], TITLE_Y[r], g, fontsize=12, fontweight='bold', ha='center', va='center')

cax = px_ax(1232, 1733, 1245, 1857)
cb = fig.colorbar(ScalarMappable(norm=norm, cmap=cmap), cax=cax, ticks=[0, 2, 4])
cb.outline.set_visible(False)
cax.tick_params(direction='in', length=4, width=0.8, color='white', labelsize=8.5, labelcolor='#333333', pad=1.5)

# panel letters
for t, x, y in (('A', 27, 27), ('B', 683, 29), ('C', 24, 471), ('D', 690, 474), ('E', 28, 810), ('F', 677, 808), ('G', 38, 1293)):
    ov.text(x, y, t, fontsize=18.5, ha='center', va='center', family=['Liberation Sans Narrow', 'Liberation Sans'])

fig.savefig('out.png', dpi=100, facecolor='white')
